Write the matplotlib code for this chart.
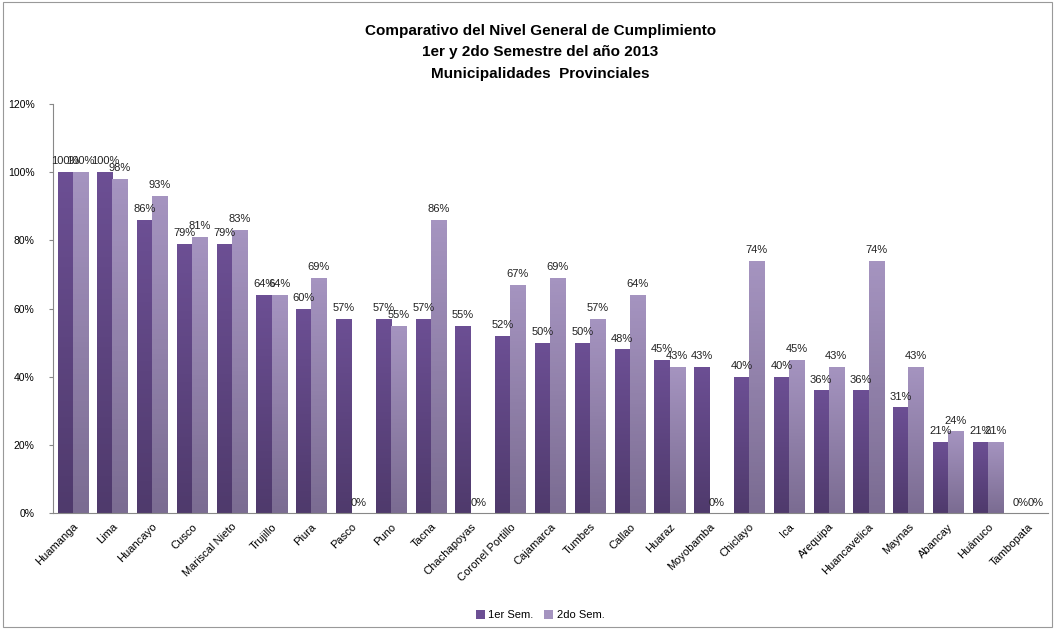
import matplotlib.pyplot as plt
import numpy as np
from matplotlib.colors import LinearSegmentedColormap
from matplotlib.patches import Rectangle

plt.rcParams["font.family"] = ["Liberation Sans", "DejaVu Sans"]

categories = ["Huamanga", "Lima", "Huancayo", "Cusco", "Mariscal Nieto", "Trujillo",
              "Piura", "Pasco", "Puno", "Tacna", "Chachapoyas", "Coronel Portillo",
              "Cajamarca", "Tumbes", "Callao", "Huaraz", "Moyobamba", "Chiclayo", "Ica",
              "Arequipa", "Huancavelica", "Maynas", "Abancay", "Huánuco", "Tambopata"]
sem1 = [100, 100, 86, 79, 79, 64, 60, 57, 57, 57, 55, 52, 50, 50, 48, 45, 43, 40, 40,
        36, 36, 31, 21, 21, 0]
sem2 = [100, 98, 93, 81, 83, 64, 69, 0, 55, 86, 0, 67, 69, 57, 64, 43, 0, 74, 45,
        43, 74, 43, 24, 21, 0]
series_names = ["1er Sem.", "2do Sem."]
yticks = [0, 20, 40, 60, 80, 100, 120]

fig = plt.figure(figsize=(10.55, 6.29), dpi=100)
ax = fig.add_axes([0.050, 0.184, 0.943, 0.651])

x = np.arange(len(categories))
w = 0.38
specs = [(sem1, -w / 2, "#6C4F94", "#4F3A6C"), (sem2, w / 2, "#A594C0", "#7B6C92")]
bars_all = []
for (vals, off, top, bot), name in zip(specs, series_names):
    bars = ax.bar(x + off, vals, w, color=top, label=name, zorder=2)
    # vertical gradient fill, darker at the base
    cmap = LinearSegmentedColormap.from_list("g", [bot, top])
    grad = np.linspace(0, 1, 64).reshape(-1, 1)
    for b in bars:
        h = b.get_height()
        if h <= 0:
            continue
        im = ax.imshow(grad, cmap=cmap, origin="lower", aspect="auto",
                       extent=[b.get_x(), b.get_x() + b.get_width(), 0, h], zorder=2.5)
        im.set_clip_path(b)
    ax.bar_label(bars, labels=[f"{v}%" for v in vals], padding=4, fontsize=8,
                 color="#222222")
    bars_all.append(bars)

ax.set_xlim(-0.5, len(categories) - 0.5)
ax.set_ylim(0, 120)
ax.set_yticks(yticks)
ax.set_yticklabels([f"{t}%" for t in yticks], fontsize=7.5)
ax.set_xticks(x)
ax.set_xticklabels(categories, rotation=45, ha="right", rotation_mode="anchor", fontsize=8)
ax.tick_params(axis="x", length=0, pad=6)
ax.tick_params(axis="y", length=3, color="#888888", pad=10)
for s in ["top", "right"]:
    ax.spines[s].set_visible(False)
for s in ["left", "bottom"]:
    ax.spines[s].set_color("#888888")

fig.text(0.512, 0.950, "Comparativo del Nivel General de Cumplimiento", ha="center",
         va="center", fontsize=11, fontweight="bold")
fig.text(0.512, 0.917, "1er y 2do Semestre del año 2013", ha="center",
         va="center", fontsize=11, fontweight="bold")
fig.text(0.512, 0.882, "Municipalidades  Provinciales", ha="center",
         va="center", fontsize=11, fontweight="bold")

fig.legend(handles=bars_all, labels=series_names, loc="center", ncol=2,
           bbox_to_anchor=(0.512, 0.022), frameon=False, fontsize=8,
           handlelength=0.8, handleheight=0.8, handletextpad=0.3, columnspacing=1.0)

fig.patches.append(Rectangle((0.003, 0.003), 0.994, 0.994, transform=fig.transFigure,
                             fill=False, edgecolor="#999999", linewidth=0.8))

fig.savefig("out.png", dpi=100)
